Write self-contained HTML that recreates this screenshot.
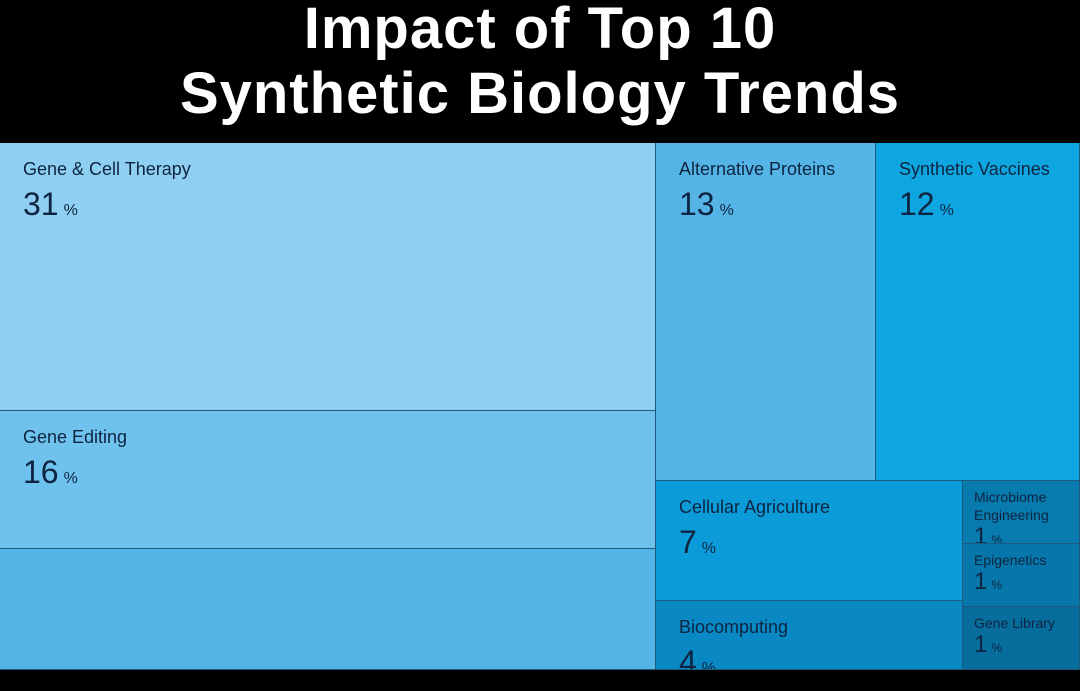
<!DOCTYPE html>
<html><head><meta charset="utf-8"><style>
body{margin:0;width:1080px;height:691px;background:#000;overflow:hidden;font-family:"Liberation Sans",sans-serif;position:relative}
#title{position:absolute;left:0;top:-4px;width:1080px;text-align:center;color:#fff;font-weight:bold;font-size:58px;line-height:65px;letter-spacing:1px}
.tile{position:absolute;box-sizing:border-box;border-right:1px solid #1d5a80;border-bottom:1px solid #1d5a80;color:#0e2440;overflow:hidden}
.lab{position:absolute;left:23px;top:16px;font-size:18px;line-height:20px}
.val{position:absolute;left:23px;font-size:32px}
.val span{font-size:16px;margin-left:5px}
.small .lab{left:11px;top:7px;font-size:14px;line-height:18px}
.small .val{left:11px;font-size:24px}
.small .val span{font-size:12px;margin-left:4px}
</style></head><body>
<div id="title">Impact of Top 10<br>Synthetic Biology Trends</div>
<div id="map"></div>
<script>
const names=["Gene & Cell Therapy","Gene Editing","","Alternative Proteins","Synthetic Vaccines","Cellular Agriculture","Biocomputing","Microbiome\nEngineering","Epigenetics","Gene Library"];
const values=[31,16,14,13,12,7,4,1,1,1];
const colors=["#8fd0f2","#6ec2ed","#55b4e6","#55b4e6","#0ea6e1","#0b9bd9","#0988c4","#077aae","#0776aa","#066d9c"];
const X0=0,Y0=143,W=1080,H=527;
const w=values.map(v=>Math.max(v,1.4));
const s=(a,b,arr)=>(arr||values).slice(a,b).reduce((p,c)=>p+c,0);
const rects=[];
const total=s(0,10);
const lw=Math.round(W*s(0,3)/total)-3;
let y=Y0;
for(let i=0;i<3;i++){const h=H*values[i]/s(0,3);rects.push([X0,y,lw,h]);y+=h;}
const rx=X0+lw,rw=W-lw;
const th=H*s(3,5)/s(3,10);
let x=rx;
for(let i=3;i<5;i++){const ww=rw*values[i]/s(3,5);rects.push([x,Y0,ww,th]);x+=ww;}
const by=Y0+th,bh=H-th;
const cw=rw*s(5,7,w)/s(5,10,w);
y=by;
for(let i=5;i<7;i++){const h=bh*values[i]/s(5,7);rects.push([rx,y,cw,h]);y+=h;}
y=by;
for(let i=7;i<10;i++){const h=bh*values[i]/s(7,10);rects.push([rx+cw,y,rw-cw,h]);y+=h;}
const map=document.getElementById('map');
rects.forEach((r,i)=>{
 const d=document.createElement('div');
 
 
 d.className='tile'+(i>=7?' small':'');
 d.style.left=Math.round(r[0])+'px';d.style.top=Math.round(r[1])+'px';
 d.style.width=(Math.round(r[0]+r[2])-Math.round(r[0]))+'px';
 d.style.height=(Math.round(r[1]+r[3])-Math.round(r[1]))+'px';
 d.style.background=colors[i];
 if(names[i]){
  const l=document.createElement('div');
  
  
  l.className='lab';l.innerHTML=names[i].replace('\n','<br>');d.appendChild(l);
  const v=document.createElement('div');
  
  
  v.className='val';
  const lines=names[i].split('\n').length;
  v.style.top=(i>=7?(lines==2?42:24):43)+'px';
  v.innerHTML=values[i]+'<span>%</span>';d.appendChild(v);
 }
 map.appendChild(d);
});
</script>
</body></html>
